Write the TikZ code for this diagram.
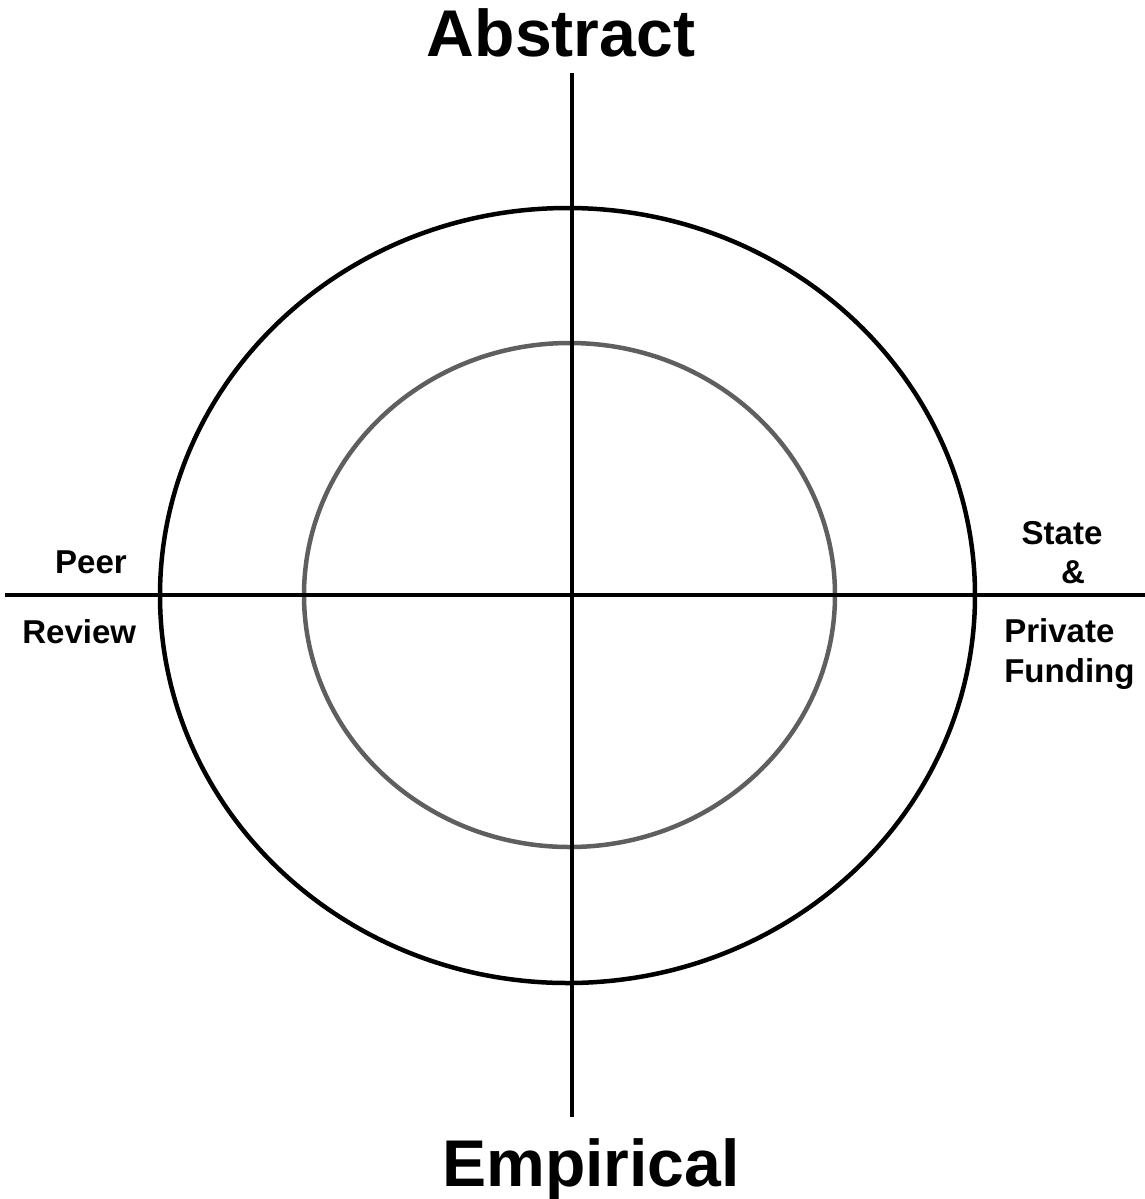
\documentclass[tikz,border=0pt]{standalone}
\usepackage{fontspec}
\setmainfont{Liberation Sans}
\usepackage{tikz}
\usetikzlibrary{positioning}
\definecolor{ink}{RGB}{0,0,0}
\definecolor{ringgray}{RGB}{95,95,95}
\tikzset{
  axis/.style={draw=ink,line width=3.2pt},
  outerring/.style={draw=ink,line width=3.2pt},
  innerring/.style={draw=ringgray,line width=3.2pt},
  pole/.style={font=\fontsize{47}{50}\selectfont\bfseries,inner sep=0pt,anchor=base},
  side/.style={font=\fontsize{23.5}{27}\selectfont\bfseries,inner sep=0pt},
}
\begin{document}
\begin{tikzpicture}[x=0.025cm,y=0.025cm]
  \useasboundingbox (0,0) rectangle (1145,-1199);
  % rings
  \draw[outerring] (567.5,-595.5) ellipse [x radius=407.5, y radius=387.5];
  \draw[innerring] (569.5,-595) ellipse [x radius=265.5, y radius=252];
  % axis ends
  \coordinate (top) at (572,-73);
  \coordinate (bot) at (572,-1117);
  \coordinate (west) at (5,-595);
  \coordinate (east) at (1145,-595);
  \draw[axis] (top) -- (bot);
  \draw[axis] (west) -- (east);
  % labels
  \node[pole] (abstract) at (561,-56) {Abstract};
  \node[pole] (empirical) at (591,-1186) {Empirical};
  \node[side,anchor=base] (peer) at (91,-573) {Peer};
  \node[side,anchor=base west] (review) at (22,-643) {Review};
  \node[side,anchor=base] (state) at (1062,-544) {State};
  \node[side,anchor=base] (amp) at (1073,-583) {\&};
  \node[side,anchor=base west] (private) at (1004,-642) {Private};
  \node[side,anchor=base west] (funding) at (1004,-682) {Funding};
\end{tikzpicture}
\end{document}
